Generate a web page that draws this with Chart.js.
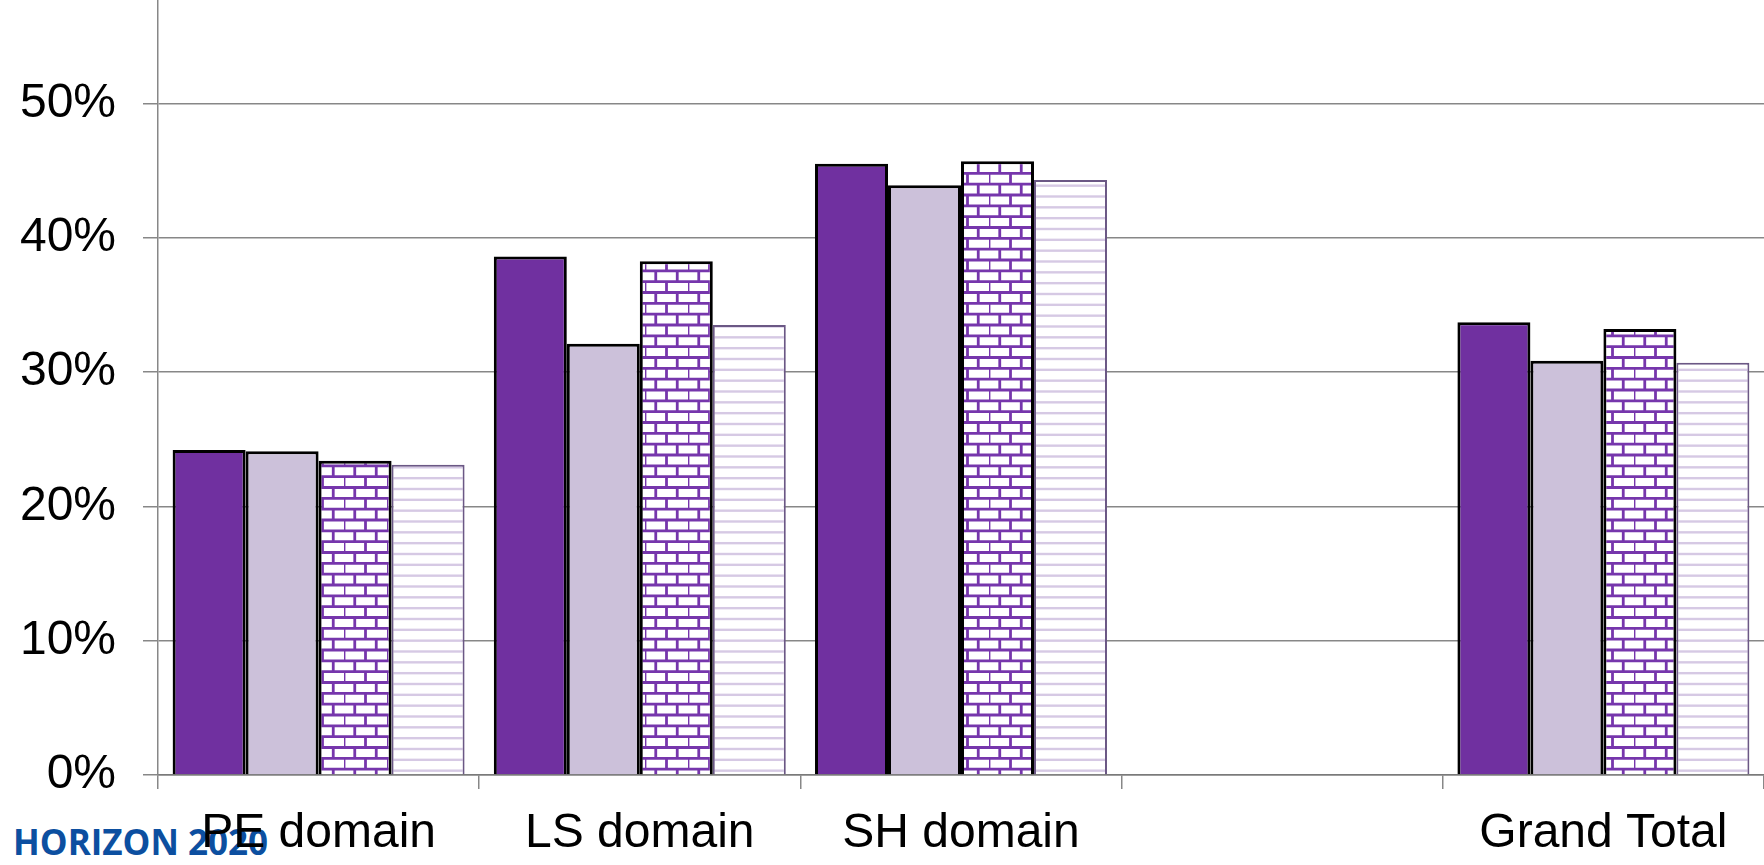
<!DOCTYPE html>
<html>
<head>
<meta charset="utf-8">
<script src="https://cdn.jsdelivr.net/npm/chart.js@4"></script>
<style>
	body { margin: 0; background: #fff; }
	.wrap { position: relative; width: 1764px; height: 865px; }
	.logo {
		position: absolute;
		left: 13px;
		top: 824px;
		font: bold 35px "Open Sans";
		line-height: 35px;
		color: #0c4fa0;
		z-index: 0;
	}
	canvas { position: absolute; left: 0; top: 0; z-index: 1; }
</style>
</head>
<body>
<div class="wrap">
	<div class="logo">HORIZON 2020</div>
	<canvas class="bar-chart"></canvas>
</div>
<script>
const categories = ["PE domain", "LS domain", "SH domain", "", "Grand Total"];

const seriesNames = ["Series 1", "Series 2", "Series 3", "Series 4"];

const series1 = [0.242, 0.386, 0.455, null, 0.337];
const series2 = [0.241, 0.321, 0.439, null, 0.3085];
const series3 = [0.234, 0.3825, 0.457, null, 0.332];
const series4 = [0.231, 0.335, 0.443, null, 0.307];

const yTicks = [0, 0.1, 0.2, 0.3, 0.4, 0.5];

// brick pattern, purple mortar on white
const makeBricks = () => {
	const c = document.createElement("canvas");
	c.width = 43;
	c.height = 65;
	const ctx = c.getContext("2d");
	ctx.fillStyle = "#fff";
	ctx.fillRect(0, 0, 43, 65);
	ctx.strokeStyle = "#7636ac";
	ctx.lineWidth = 2.8;
	const rowH = 65 / 6;
	for (let r = 0; r < 6; r++) {
		const y = r * rowH;
		ctx.beginPath();
		ctx.moveTo(0, y);
		ctx.lineTo(43, y);
		ctx.stroke();
		const off = r % 2 == 0 ? 0 : 10.75;
		for (let x = off; x < 43; x += 21.5) {
			ctx.beginPath();
			ctx.moveTo(x, y);
			ctx.lineTo(x, y + rowH);
			ctx.stroke();
		}
	}
	// close bottom edge of tile
	ctx.beginPath();
	ctx.moveTo(0, 65);
	ctx.lineTo(43, 65);
	ctx.stroke();
	return ctx.createPattern(c, "repeat");
};

// horizontal light lines
const makeLines = () => {
	const c = document.createElement("canvas");
	c.width = 10;
	c.height = 65;
	const ctx = c.getContext("2d");
	ctx.fillStyle = "#fff";
	ctx.fillRect(0, 0, 10, 65);
	ctx.strokeStyle = "#d6c9e4";
	ctx.lineWidth = 2.4;
	for (let r = 0; r < 6; r++) {
		const y = r * 65 / 6 + 1.5;
		ctx.beginPath();
		ctx.moveTo(0, y);
		ctx.lineTo(10, y);
		ctx.stroke();
	}
	return ctx.createPattern(c, "repeat");
};

const gridGray = "#878787";

const renderChart = () => {
	const barChart = document.querySelector(".bar-chart");

	new Chart(barChart, {
		type: "bar",
		data: {
			labels: categories,
			datasets: [
				{
					label: seriesNames[0],
					data: series1,
					backgroundColor: "#7030a0",
					borderColor: "#000",
					borderWidth: 3,
				},
				{
					label: seriesNames[1],
					data: series2,
					backgroundColor: "#ccc1da",
					borderColor: "#000",
					borderWidth: 3,
				},
				{
					label: seriesNames[2],
					data: series3,
					backgroundColor: makeBricks(),
					borderColor: "#000",
					borderWidth: 3,
				},
				{
					label: seriesNames[3],
					data: series4,
					backgroundColor: makeLines(),
					borderColor: "#6b5885",
					borderWidth: 2,
				},
			],
		},
		options: {
			responsive: true,
			maintainAspectRatio: false,
			animation: false,
			layout: { padding: 0 },
			datasets: {
				bar: { categoryPercentage: 0.909, barPercentage: 1.0 },
			},
			plugins: {
				legend: { display: false },
				tooltip: { enabled: false },
			},
			scales: {
				x: {
					grid: {
						offset: true,
						drawOnChartArea: false,
						drawTicks: true,
						tickLength: 14,
						color: gridGray,
						lineWidth: 1.5,
					},
					border: { display: true, color: "#7a7a7a", width: 1.5 },
					ticks: {
						color: "#000",
						font: { family: "Liberation Sans", size: 48 },
						padding: 16,
						maxRotation: 0,
						autoSkip: false,
					},
					afterFit: (scale) => {
						scale.height = 90;
						scale.paddingLeft = 0;
						scale.paddingRight = 0;
					},
				},
				y: {
					min: 0,
					max: 0.577,
					grid: {
						color: gridGray,
						lineWidth: 1.5,
						tickLength: 15,
					},
					border: { display: true, color: gridGray, width: 1.5 },
					ticks: {
						color: "#000",
						font: { family: "Liberation Sans", size: 48 },
						padding: 27,
						callback: (v) => Math.round(v * 100) + "%",
					},
					afterBuildTicks: (scale) => {
						scale.ticks = yTicks.map((v) => ({ value: v }));
					},
					afterFit: (scale) => {
						scale.width = 158;
						scale.paddingTop = 0;
						scale.paddingBottom = 0;
					},
				},
			},
		},
	});
};

renderChart();
</script>
</body>
</html>
